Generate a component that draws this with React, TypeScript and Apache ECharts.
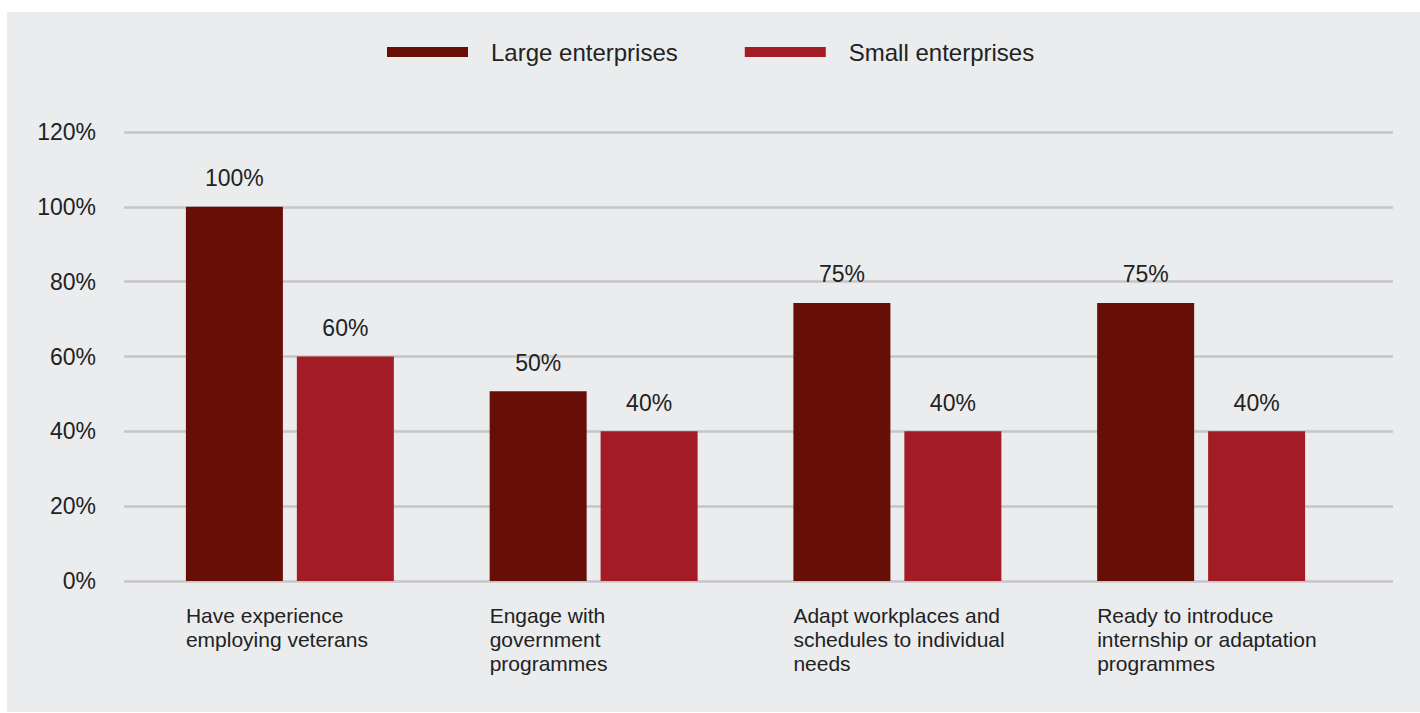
import React, { useEffect, useRef } from "react";
import * as echarts from "echarts";

const categories = [
  "Have experience\nemploying veterans",
  "Engage with\ngovernment\nprogrammes",
  "Adapt workplaces and\nschedules to individual\nneeds",
  "Ready to introduce\ninternship or adaptation\nprogrammes",
];
const seriesNames = ["Large enterprises", "Small enterprises"];
const largeValues = [100, 50.7, 74.3, 74.3];
const largeLabels = ["100%", "50%", "75%", "75%"];
const smallValues = [60, 40, 40, 40];
const smallLabels = ["60%", "40%", "40%", "40%"];
const yTicks = { min: 0, max: 120, interval: 20 };

const FONT = "'Liberation Sans', Arial, Helvetica, sans-serif";
const TEXT = "#222222";
const DARK = "#670e07";
const RED = "#a31b25";
const PANEL = "#ebecee";
const GRIDLINE = "#c6c6c8";

export default function App() {
  const ref = useRef<HTMLDivElement>(null);
  useEffect(() => {
    if (!ref.current) return;
    const chart = echarts.init(ref.current, null, { renderer: "svg" });
    const gridTop = 120;
    const gridBottom = 131;
    const hiddenY = (idx: number) => ({
      type: "value",
      gridIndex: idx,
      min: yTicks.min,
      max: yTicks.max,
      interval: yTicks.interval,
      show: false,
      splitLine: { show: false },
    });
    chart.setOption({
      animation: false,
      backgroundColor: PANEL,
      textStyle: { fontFamily: FONT },
      legend: {
        left: 375,
        top: 23,
        icon: "rect",
        itemWidth: 81,
        itemHeight: 10,
        itemGap: 67,
        textStyle: {
          fontFamily: FONT,
          fontSize: 24,
          color: TEXT,
          padding: [0, 0, 0, 18],
        },
        data: seriesNames,
      },
      grid: [
        { left: 117, right: 27, top: gridTop, bottom: gridBottom },
        { left: 131, width: 1215, top: gridTop, bottom: gridBottom },
        { left: 27, width: 1215, top: gridTop, bottom: gridBottom },
      ],
      xAxis: [
        {
          type: "category",
          gridIndex: 0,
          data: categories,
          show: false,
        },
        {
          type: "category",
          gridIndex: 1,
          data: categories,
          axisLine: { show: false },
          axisTick: { show: false },
          axisLabel: { show: false },
        },
        {
          type: "category",
          gridIndex: 2,
          data: categories,
          axisLine: { show: false },
          axisTick: { show: false },
          axisLabel: {
            interval: 0,
            align: "left",
            verticalAlign: "top",
            margin: 22,
            fontFamily: FONT,
            fontSize: 21,
            lineHeight: 24,
            color: TEXT,
          },
        },
      ],
      yAxis: [
        {
          type: "value",
          gridIndex: 0,
          min: yTicks.min,
          max: yTicks.max,
          interval: yTicks.interval,
          axisLine: { show: false },
          axisTick: { show: false },
          axisLabel: {
            formatter: "{value}%",
            margin: 28,
            fontFamily: FONT,
            fontSize: 23,
            color: TEXT,
          },
          splitLine: { show: true, lineStyle: { color: GRIDLINE, width: 2.5 } },
        },
        hiddenY(1),
        hiddenY(2),
      ],
      series: [
        {
          name: seriesNames[0],
          type: "bar",
          xAxisIndex: 1,
          yAxisIndex: 1,
          data: largeValues,
          barWidth: 97,
          barGap: "14.4%",
          itemStyle: { color: DARK },
          label: {
            show: true,
            position: "top",
            distance: 17,
            fontFamily: FONT,
            fontSize: 23,
            color: TEXT,
            formatter: (p: any) => largeLabels[p.dataIndex],
          },
        },
        {
          name: seriesNames[1],
          type: "bar",
          xAxisIndex: 1,
          yAxisIndex: 1,
          data: smallValues,
          barWidth: 97,
          barGap: "14.4%",
          itemStyle: { color: RED },
          label: {
            show: true,
            position: "top",
            distance: 17,
            fontFamily: FONT,
            fontSize: 23,
            color: TEXT,
            formatter: (p: any) => smallLabels[p.dataIndex],
          },
        },
      ],
    });
    return () => chart.dispose();
  }, []);
  return (
    <div
      style={{
        position: "absolute",
        left: 0,
        top: 0,
        width: 1420,
        height: 713,
        background: "#ffffff",
      }}
    >
      <div
        ref={ref}
        style={{
          position: "absolute",
          left: 7,
          top: 12,
          width: 1413,
          height: 700,
        }}
      />
    </div>
  );
}
